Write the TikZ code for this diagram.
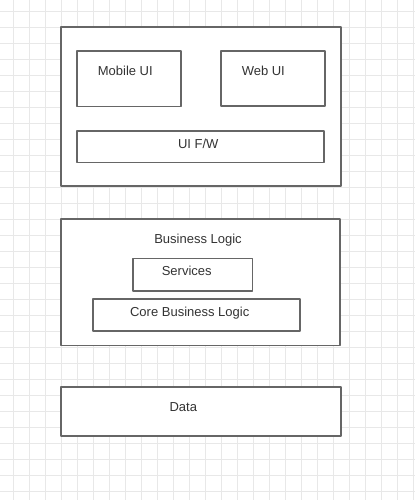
\documentclass[tikz,border=0pt]{standalone}
\usepackage{fontspec}
\setmainfont{Liberation Sans}
\definecolor{gridgray}{HTML}{E8E8E8}
\definecolor{boxgray}{HTML}{666666}
\definecolor{txtgray}{HTML}{333333}
\tikzset{
	gridline/.style={color=gridgray,line width=0.8bp},
	layerbox/.style={draw=boxgray,fill=white,line width=1.6bp,rectangle,inner sep=0pt},
	lbl/.style={text=txtgray,inner sep=0pt,text height=9bp,text depth=0pt,anchor=center,
		font=\fontsize{13bp}{15bp}\selectfont}
}
\begin{document}
\begin{tikzpicture}[x=1bp,y=-1bp,line join=round]
			\useasboundingbox (0,0) rectangle (415,500);
			\fill[white] (0,0) rectangle (415,500);
			% grid behind
			\foreach \x in {13,29,...,413}
			\draw[gridline] (\x,0)-- (\x,500);
			\foreach \y in {11,27,...,491}
			\draw[gridline] (0,\y)-- (415,\y);
			% UI layer
			\node[layerbox,minimum width=280bp,minimum height=159bp] (ui) at (201,106.5) {};
			\node[layerbox,minimum width=104bp,minimum height=55.5bp] (mobile) at (129,78.75) {};
			\node[layerbox,minimum width=104bp,minimum height=55bp] (web) at (273,78.5) {};
			\node[layerbox,minimum width=247bp,minimum height=31.5bp] (uifw) at (200.5,146.75) {};
			\node[lbl] (mobiletxt) at (125.3,71) {Mobile UI};
			\node[lbl] (webtxt) at (263.3,71) {Web UI};
			\node[lbl] (uifwtxt) at (198.3,144) {UI F/W};
			% business layer
			\node[layerbox,minimum width=279bp,minimum height=126.5bp] (biz) at (200.5,282.25) {};
			\node[layerbox,minimum width=119.6bp,minimum height=32.5bp] (services) at (192.5,274.75) {};
			\node[layerbox,minimum width=207.3bp,minimum height=32bp] (core) at (196.35,314.7) {};
			\node[lbl] (biztxt) at (198,239.3) {Business Logic};
			\node[lbl] (servicestxt) at (186.7,271) {Services};
			\node[lbl] (coretxt) at (189.7,311.7) {Core Business Logic};
			% data layer
			\node[layerbox,minimum width=280bp,minimum height=49bp] (data) at (201,411.2) {};
			\node[lbl] (datatxt) at (183.3,407.3) {Data};
	\end{tikzpicture}
\end{document}
